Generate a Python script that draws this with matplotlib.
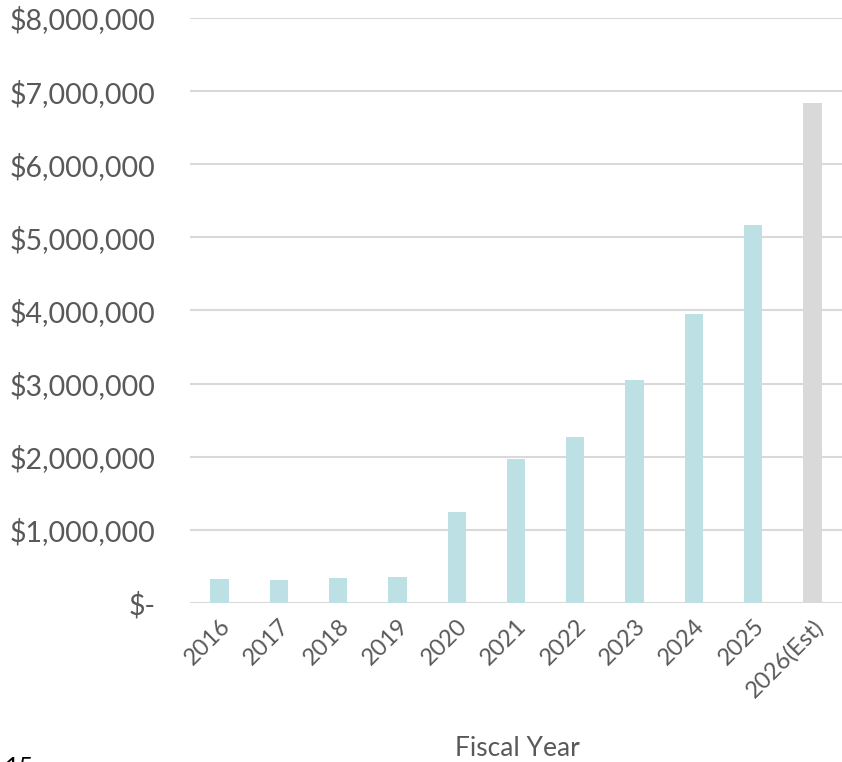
import matplotlib.pyplot as plt
from matplotlib.ticker import FuncFormatter

years = ["2016", "2017", "2018", "2019", "2020", "2021", "2022",
         "2023", "2024", "2025", "2026(Est)"]
values = [330000, 320000, 340000, 350000, 1245000, 1970000, 2270000,
          3050000, 3950000, 5170000, 6840000]
colors = ["#BCE0E3"] * 10 + ["#D9D9D9"]

TEXT = "#595959"
plt.rcParams["font.family"] = ["Lato", "DejaVu Sans"]

fig = plt.figure(figsize=(8.42, 7.62), dpi=100)
ax = fig.add_axes([0.2257, 0.2087, 0.7743, 0.7677])

x = range(len(years))
ax.bar(x, values, width=0.31, color=colors, zorder=3)

ax.set_xlim(-0.5, len(years) - 0.5)
ax.set_ylim(0, 8000000)
ax.set_yticks(range(0, 8000001, 1000000))


def money(v, pos):
    if v == 0:
        return "$-"
    return f"${v:,.0f}"


ax.yaxis.set_major_formatter(FuncFormatter(money))
ax.grid(axis="y", color="#D9D9D9", linewidth=1.5, zorder=0)
for s in ax.spines.values():
    s.set_visible(False)
ax.tick_params(axis="both", length=0, colors=TEXT)
ax.tick_params(axis="y", labelsize=20.5, pad=25)
ax.set_xticks(list(x))
ax.set_xticklabels(years, rotation=45, ha="right", rotation_mode="anchor",
                   fontsize=17)
ax.tick_params(axis="x", pad=9)

fig.text(0.614, 0.018, "Fiscal Year", ha="center", va="center",
         fontsize=19, color=TEXT)
fig.text(0.006, 0.008, "15", ha="left", va="top", fontsize=18, color="black")

fig.savefig("out.png", dpi=100)
